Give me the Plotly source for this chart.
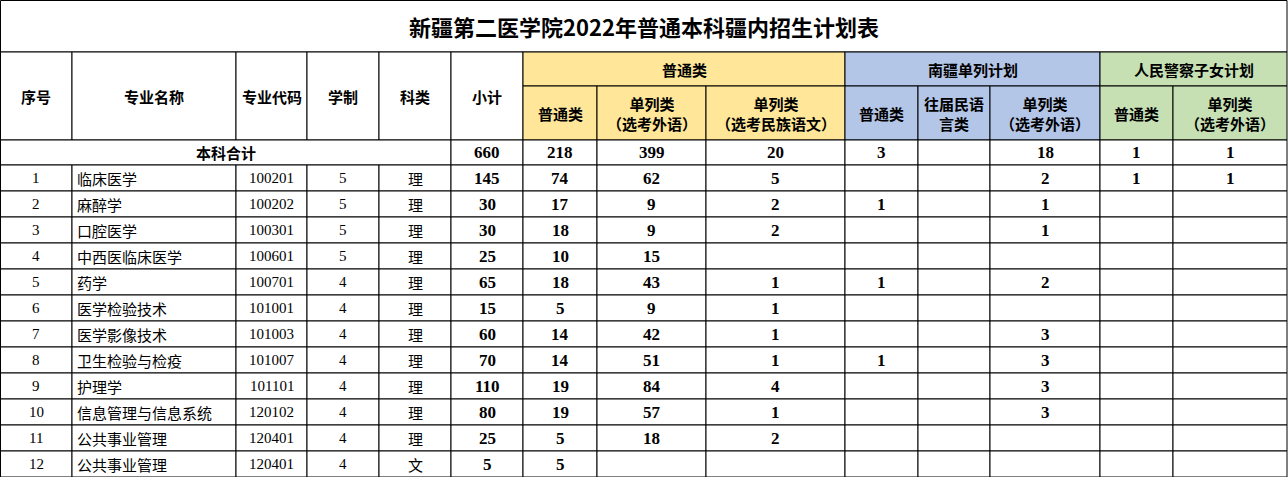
import plotly.graph_objects as go

title = "新疆第二医学院2022年普通本科疆内招生计划表"
seq = [str(i) for i in range(1, 13)]
names = ["临床医学", "麻醉学", "口腔医学", "中西医临床医学", "药学", "医学检验技术", "医学影像技术",
         "卫生检验与检疫", "护理学", "信息管理与信息系统", "公共事业管理", "公共事业管理"]
codes = ["100201", "100202", "100301", "100601", "100701", "101001", "101003", "101007",
         "101101", "120102", "120401", "120401"]
years = ["5", "5", "5", "5", "4", "4", "4", "4", "4", "4", "4", "4"]
kinds = ["理"] * 11 + ["文"]
subtotal = ["145", "30", "30", "25", "65", "15", "60", "70", "110", "80", "25", "5"]
pt_putong = ["74", "17", "18", "10", "18", "5", "14", "14", "19", "19", "5", "5"]
pt_dl_wy = ["62", "9", "9", "15", "43", "9", "42", "51", "84", "57", "18", ""]
pt_dl_mz = ["5", "2", "2", "", "1", "1", "1", "1", "4", "1", "2", ""]
nj_putong = ["", "1", "", "", "1", "", "", "1", "", "", "", ""]
nj_wj = [""] * 12
nj_dl = ["2", "1", "1", "", "2", "", "3", "3", "3", "3", "", ""]
jc_putong = ["1"] + [""] * 11
jc_dl = ["1"] + [""] * 11
totals = ["660", "218", "399", "20", "3", "", "18", "1", "1"]
total_label = "本科合计"
groups = ["普通类", "南疆单列计划", "人民警察子女计划"]
fixed_heads = ["序号", "专业名称", "专业代码", "学制", "科类", "小计"]
sub_heads = ["普通类", "单列类<br>（选考外语）", "单列类<br>（选考民族语文）", "普通类", "往届民语<br>言类",
             "单列类<br>（选考外语）", "普通类", "单列类<br>（选考外语）"]

X = [0.5, 72, 236, 307, 379, 451, 523, 597, 706, 845, 918, 990, 1100, 1173, 1287]
Y_TITLE, Y_G, Y_S, Y_T, Y_D0, RH = 0.5, 52, 86, 140, 165, 26
YELLOW, BLUE, GREEN = "#FFE699", "#B4C6E7", "#C6E0B4"
CJK = "Noto Sans CJK SC"
NUM = "Liberation Serif"

shapes, ann = [], []

def cell(x0, x1, y0, y1, text="", fill="white", bold=False, font=CJK, size=15, align="center"):
    shapes.append(dict(type="rect", x0=x0, x1=x1, y0=y0, y1=y1, fillcolor=fill,
                       line=dict(color="black", width=1), layer="below"))
    if text:
        t = f"<b>{text}</b>" if bold else text
        if align == "left":
            ann.append(dict(x=x0 + 3, y=(y0 + y1) / 2, text=t, showarrow=False, xanchor="left",
                            font=dict(family=font, size=size, color="black")))
        else:
            ann.append(dict(x=(x0 + x1) / 2, y=(y0 + y1) / 2, text=t, showarrow=False,
                            font=dict(family=font, size=size, color="black")))

cell(X[0], X[-1], Y_TITLE, Y_G, title, bold=True, size=22)
for i, h in enumerate(fixed_heads):
    cell(X[i], X[i + 1], Y_G, Y_T, h, bold=True)
gspan = [(6, 9, YELLOW), (9, 12, BLUE), (12, 14, GREEN)]
for g, (a, b, c) in zip(groups, gspan):
    cell(X[a], X[b], Y_G, Y_S, g, fill=c, bold=True)
colfill = [YELLOW] * 3 + [BLUE] * 3 + [GREEN] * 2
for j, h in enumerate(sub_heads):
    cell(X[6 + j], X[7 + j], Y_S, Y_T, h, fill=colfill[j], bold=True)
cell(X[0], X[5], Y_T, Y_D0, total_label, bold=True)
for j, v in enumerate(totals):
    cell(X[5 + j], X[6 + j], Y_T, Y_D0, v, bold=True, font=NUM, size=17)

cols = [subtotal, pt_putong, pt_dl_wy, pt_dl_mz, nj_putong, nj_wj, nj_dl, jc_putong, jc_dl]
for r in range(12):
    y0 = Y_D0 + r * RH
    y1 = y0 + RH
    cell(X[0], X[1], y0, y1, seq[r], font=NUM, size=15)
    cell(X[1], X[2], y0, y1, names[r], align="left")
    cell(X[2], X[3], y0, y1, codes[r], font=NUM, size=15)
    cell(X[3], X[4], y0, y1, years[r], font=NUM, size=15)
    cell(X[4], X[5], y0, y1, kinds[r])
    for j, col in enumerate(cols):
        cell(X[5 + j], X[6 + j], y0, y1, col[r], bold=True, font=NUM, size=17)

fig = go.Figure()
fig.update_layout(width=1288, height=477, margin=dict(l=0, r=0, t=0, b=0),
                  plot_bgcolor="white", paper_bgcolor="white", shapes=shapes, annotations=ann,
                  xaxis=dict(range=[0, 1288], visible=False, fixedrange=True),
                  yaxis=dict(range=[477, 0], visible=False, fixedrange=True), showlegend=False)
fig.write_html("out.html", config={"displayModeBar": False},
               post_script="document.body.style.margin='0';document.body.style.overflow='hidden';")
